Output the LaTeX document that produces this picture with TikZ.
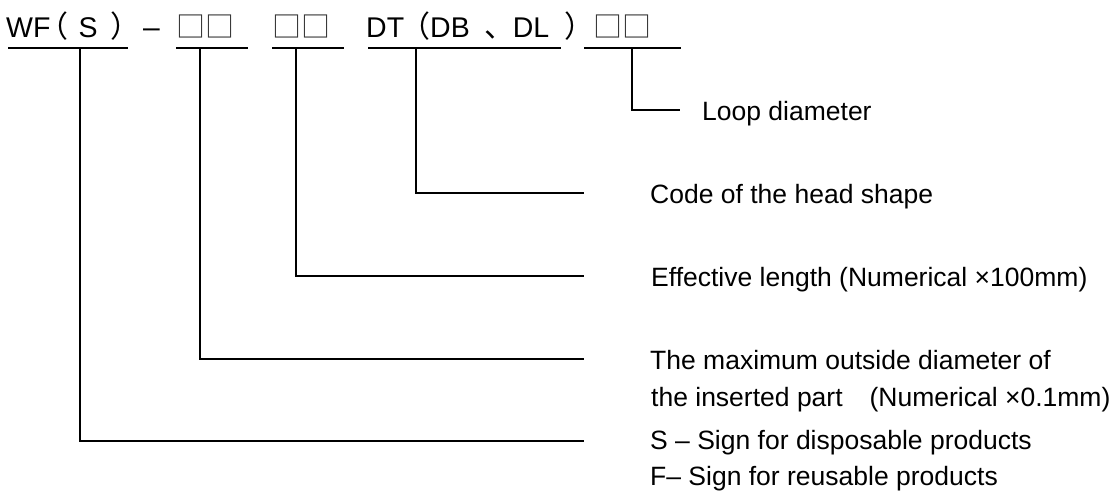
\documentclass[tikz,border=0pt]{standalone}
\usepackage{fontspec}
\setmainfont{Liberation Sans}
\newfontfamily\cjk{Noto Sans CJK SC}
\newfontfamily\cjkp[RawFeature=+palt]{Noto Sans CJK SC}
\newcommand{\pc}[1]{{\cjkp\fontsize{30}{30}\selectfont #1}}
\begin{document}
\begin{tikzpicture}[x=1pt,y=-1pt,
  lat/.style={inner sep=0pt,anchor=base west,font=\fontsize{28.5}{28.5}\selectfont},
  boxes/.style={inner sep=0pt,anchor=base,font=\cjk\fontsize{29}{29}\selectfont,text=black!80},
  lbl/.style={inner sep=0pt,anchor=base west,font=\fontsize{26.5}{26.5}\selectfont},
  uline/.style={line width=2pt},
  conn/.style={line width=1.5pt}]
\useasboundingbox (0,0) rectangle (1117,498);
% code line
\node[lat] (g1) at (6,37) {WF\hspace{2pt}\pc{（}\hspace{11pt}S\hspace{14pt}\pc{）}};
\node[lat,font=\fontsize{30}{30}\selectfont] (dash) at (143,37) {–};
\node[boxes] (b1) at (205,37) {□□};
\node[boxes] (b2) at (301,37) {□□};
\node[lat] (g2) at (366,37) {DT\hspace{10pt}\pc{（}\hspace{1pt}DB\hspace{15pt}\pc{、}\hspace{13pt}DL\hspace{16pt}\pc{）}};
\node[boxes] (b3) at (622,37) {□□};
% underlines
\draw[uline] (8,48) -- (128,48);
\draw[uline] (176,48) -- (248,48);
\draw[uline] (272,48) -- (344,48);
\draw[uline] (368,48) -- (561,48);
\draw[uline] (584,48) -- (681,48);
\coordinate (u1) at (80,48);
\coordinate (u2) at (200,48);
\coordinate (u3) at (296,48);
\coordinate (u4) at (416,48);
\coordinate (u5) at (632,48);
\coordinate (e5) at (680,110);
\coordinate (e4) at (584,193);
\coordinate (e3) at (584,276);
\coordinate (e2) at (584,359);
\coordinate (e1) at (584,441);
\draw[conn] (u5) |- (e5);
\draw[conn] (u4) |- (e4);
\draw[conn] (u3) |- (e3);
\draw[conn] (u2) |- (e2);
\draw[conn] (u1) |- (e1);
% labels
\node[lbl] (l5) at (702,120) {Loop diameter};
\node[lbl] (l4) at (650,203) {Code of the head shape};
\node[lbl] (l3) at (651,286) {Effective length (Numerical ×100mm)};
\node[lbl] (l2a) at (650,369) {The maximum outside diameter of};
\node[lbl] (l2b) at (651,406) {the inserted part\hspace{27pt}(Numerical ×0.1mm)};
\node[lbl] (l1a) at (650,449) {S – Sign for disposable products};
\node[lbl] (l1b) at (650,485) {F– Sign for reusable products};
\end{tikzpicture}
\end{document}
